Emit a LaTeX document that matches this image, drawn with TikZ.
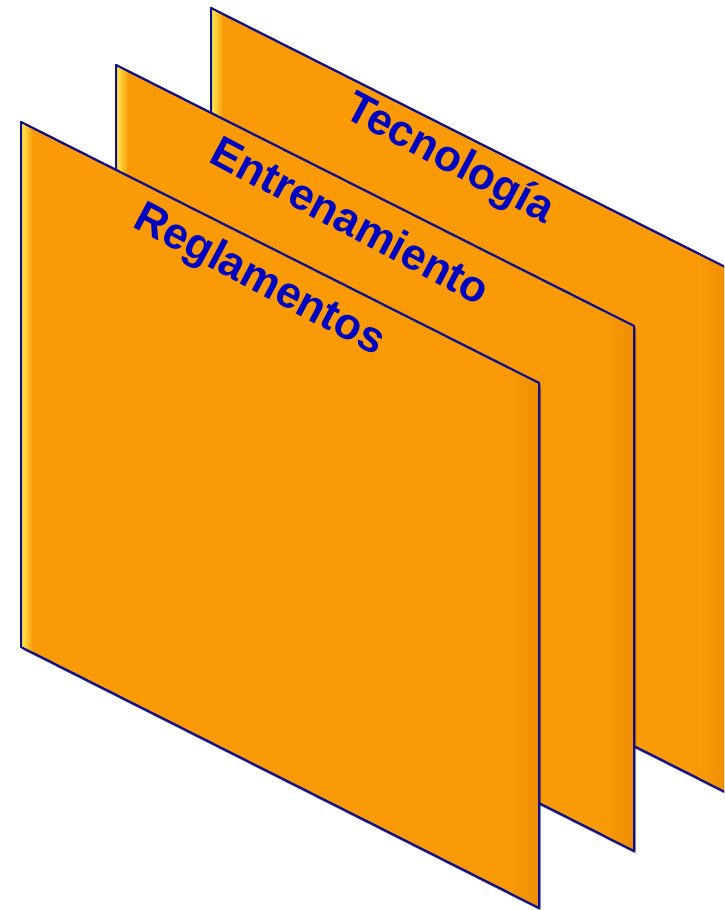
\documentclass[tikz,border=0pt]{standalone}
\usepackage{fontspec}
\setmainfont{Liberation Sans}
\usepackage{xcolor}

\definecolor{panelfill}{HTML}{F99A06}
\definecolor{paneledge}{HTML}{10108C}
\definecolor{panelglow}{HTML}{FFEE55}
\definecolor{panelshade}{HTML}{F08E04}
\definecolor{labelblue}{HTML}{0000C0}

\tikzset{
    panelshape/.style={fill=panelfill, draw=paneledge, line width=2pt, line join=round},
    panelshadow/.style={fill=black, opacity=0.3},
    panellabel/.style={text=labelblue, font=\fontsize{44}{52}\selectfont\bfseries, rotate=-28, inner sep=0pt}
}

% one sheet, top-left corner at (#1,#2)
\newcommand{\sheetpath}[2]{(#1,#2) -- ++(518,-261) -- ++(0,-525) -- ++(-518,261) -- cycle}
\newcommand{\drawsheet}[2]{%
    \fill[panelshadow] \sheetpath{#1+2}{#2-3};
    \draw[panelshape] \sheetpath{#1}{#2};
    \begin{scope}
        \clip \sheetpath{#1}{#2};
        \shade[left color=panelglow, right color=panelfill] (#1,#2-800) rectangle (#1+12,#2+10);
        \shade[left color=panelfill, right color=panelshade] (#1+488,#2-800) rectangle (#1+518,#2-200);
    \end{scope}
    \draw[paneledge, line width=2pt, line join=round] \sheetpath{#1}{#2};
}

\begin{document}
\begin{tikzpicture}[x=1pt, y=1pt]
    \clip (0,0) rectangle (724,910);

    % Sheets, back to front
    \drawsheet{211}{902}
    \node[panellabel] (tecno) at (449,750) {Tecnología};

    \drawsheet{116}{845}
    \node[panellabel] (entren) at (351,690) {Entrenamiento};

    \drawsheet{21}{788}
    \node[panellabel] (regla) at (259,629) {Reglamentos};
\end{tikzpicture}
\end{document}
